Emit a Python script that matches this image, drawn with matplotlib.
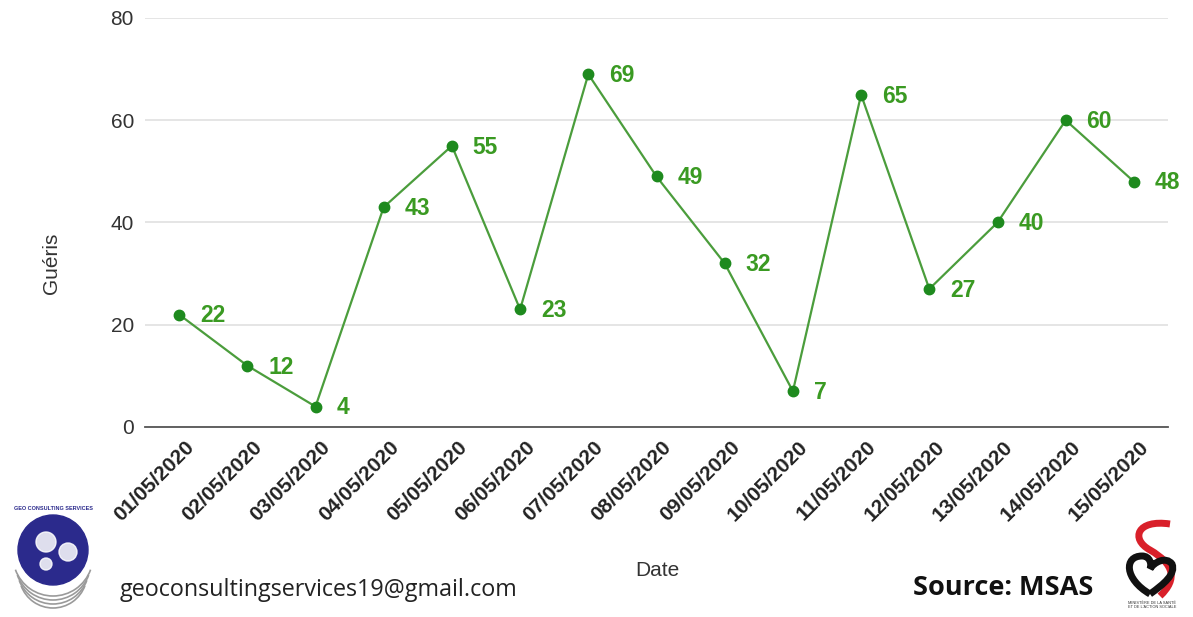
import matplotlib
matplotlib.use("Agg")
import matplotlib.pyplot as plt
import matplotlib.transforms as mtransforms
from matplotlib.patches import Circle, Arc, PathPatch
from matplotlib.path import Path

dates = ["01/05/2020", "02/05/2020", "03/05/2020", "04/05/2020", "05/05/2020",
         "06/05/2020", "07/05/2020", "08/05/2020", "09/05/2020", "10/05/2020",
         "11/05/2020", "12/05/2020", "13/05/2020", "14/05/2020", "15/05/2020"]
gueris = [22, 12, 4, 43, 55, 23, 69, 49, 32, 7, 65, 27, 40, 60, 48]
y_ticks = [0, 20, 40, 60, 80]

plt.rcParams['font.family'] = ['Liberation Sans', 'DejaVu Sans']

W, H = 1193, 617
fig = plt.figure(figsize=(W / 100, H / 100), dpi=100)
fig.patch.set_facecolor('white')

ax = fig.add_axes([145 / W, 1 - 427 / H, (1168 - 145) / W, (427 - 18) / H])
x = list(range(len(dates)))
line_c = '#4b9d3c'
mark_c = '#1e8a1e'
text_c = '#3a9a22'
ax.plot(x, gueris, color=line_c, lw=1.6, zorder=3)
ax.plot(x, gueris, 'o', color=mark_c, ms=7.5, zorder=4)
for xi, v in zip(x, gueris):
    ax.annotate(str(v), (xi, v), xytext=(15, -1), textcoords='offset points',
                ha='left', va='center', fontsize=16.5, fontweight='bold', color=text_c)

ax.set_xlim(-0.5, 14.5)
ax.set_ylim(0, 80)
ax.set_yticks(y_ticks)
ax.set_yticklabels([str(t) for t in y_ticks], fontsize=15, color='#333333')
ax.grid(axis='y', color='#e3e3e3', lw=1.3)
ax.set_axisbelow(True)
for s in ['top', 'right', 'left']:
    ax.spines[s].set_visible(False)
ax.spines['bottom'].set_color('#555555')
ax.spines['bottom'].set_linewidth(1.3)
ax.tick_params(axis='y', length=0, pad=8)
ax.tick_params(axis='x', length=0)
ax.set_xticks(x)
ax.set_xticklabels(dates, rotation=45, ha='right', va='center', rotation_mode='anchor',
                   fontsize=15, fontweight='bold', color='#222222')
offset = mtransforms.ScaledTranslation(12 / 100, -12 / 100, fig.dpi_scale_trans)
for lab in ax.get_xticklabels():
    lab.set_transform(lab.get_transform() + offset)

fig.text(52 / W, 1 - 263 / H, 'Guéris', rotation=90, ha='center', va='center',
         fontsize=15, color='#333333')
fig.text(657 / W, 1 - 570 / H, 'Date', ha='center', va='center', fontsize=15, color='#333333')
fig.text(120 / W, 1 - 590 / H, 'geoconsultingservices19@gmail.com', ha='left', va='center',
         fontsize=16.8, color='#222222', family='Open Sans')
fig.text(913 / W, 1 - 588 / H, 'Source: MSAS', ha='left', va='center',
         fontsize=19.5, fontweight='bold', color='#111111', family='Open Sans')

# GEO consulting logo
lax = fig.add_axes([8 / W, 1 - 612 / H, 90 / W, 115 / H])
lax.set_xlim(0, 90)
lax.set_ylim(0, 115)
lax.set_aspect('equal')
lax.axis('off')
for i, r in enumerate([40, 38, 36, 34]):
    lax.add_patch(Arc((45, 62 - 6 - i * 6), 2 * r, 2 * r, theta1=200, theta2=340,
                      color='#9a9a9a', lw=1.2))
lax.add_patch(Circle((45, 62), 35, color='#2b2a8c'))
lax.add_patch(Circle((38, 70), 10, color='white', alpha=0.85))
lax.add_patch(Circle((60, 60), 9, color='white', alpha=0.85))
lax.add_patch(Circle((38, 48), 6, color='white', alpha=0.85))
lax.text(45, 104, 'GEO CONSULTING SERVICES', ha='center', va='center', fontsize=4,
         color='#2b2a8c', fontweight='bold')

# MSAS logo
max_ = fig.add_axes([1112 / W, 1 - 614 / H, 80 / W, 95 / H])
max_.set_xlim(0, 80)
max_.set_ylim(0, 95)
max_.set_aspect('equal')
max_.axis('off')
s_path = Path([(58, 90), (25, 95), (18, 75), (38, 64), (62, 50), (66, 35), (48, 18)],
              [Path.MOVETO, Path.CURVE4, Path.CURVE4, Path.CURVE4, Path.CURVE4, Path.CURVE4, Path.CURVE4])
max_.add_patch(PathPatch(s_path, fc='none', ec='#d9202a', lw=5))
heart = Path([(38, 20), (12, 35), (12, 58), (30, 58), (38, 58), (40, 50), (38, 45),
              (42, 52), (54, 58), (60, 50), (64, 40), (52, 30), (38, 20)],
             [Path.MOVETO, Path.CURVE4, Path.CURVE4, Path.CURVE4, Path.CURVE4, Path.CURVE4, Path.CURVE4,
              Path.CURVE4, Path.CURVE4, Path.CURVE4, Path.CURVE4, Path.CURVE4, Path.CURVE4])
max_.add_patch(PathPatch(heart, fc='none', ec='#111111', lw=5))
max_.text(40, 9, "MINISTÈRE DE LA SANTÉ\nET DE L'ACTION SOCIALE", ha='center', va='center',
          fontsize=2.8, color='#333333', linespacing=1.0)

fig.savefig('out.png', dpi=100, facecolor='white')
